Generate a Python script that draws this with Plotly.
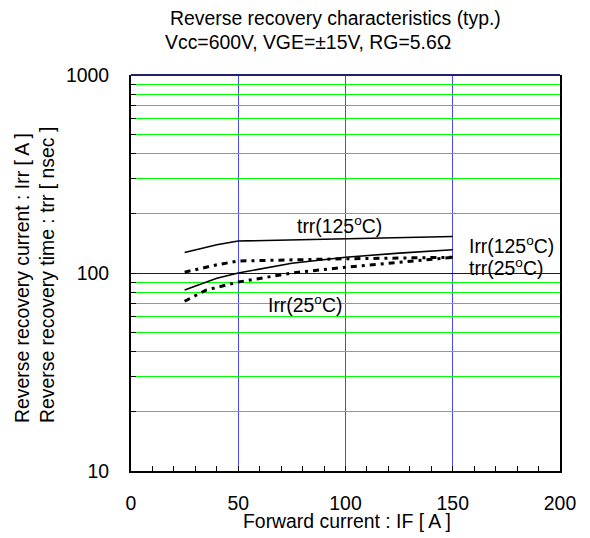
import numpy as np
import plotly.graph_objects as go

# ---- data ----
if_trr125 = [25, 40, 50, 75, 100, 125, 150]
trr125 = [127, 139, 145, 147, 149, 151, 153]

if_irr125 = [25, 40, 50, 75, 100, 125, 150]
irr125 = [82, 94, 100, 112, 120, 126, 131]

if_trr25 = [25, 40, 50, 75, 100, 125, 150]
trr25 = [101, 110, 115, 117, 118, 119, 120]

if_irr25 = [25, 35, 50, 75, 100, 125, 150]
irr25 = [72, 82, 90, 100, 107, 113, 120]

x_ticks = [0, 50, 100, 150, 200]
y_ticks = [10, 100, 1000]
y_minor = [20, 30, 40, 50, 60, 70, 80, 90, 200, 300, 400, 500, 600, 700, 800, 900]

FONT = "Liberation Sans, Arial, sans-serif"
FS = 19.4

# page has an 8px body margin, so the figure is drawn 8px smaller/offset
W, H = 582, 530
L, T = 123, 67
PW, PH = 429, 396
R = W - L - PW
B = H - T - PH

# positions measured on the reference picture (plot box 131..560 x 75..471)
def px(x):
    return (x - 131) / PW

def py(y):
    return (471 - y) / PH

fig = go.Figure()

fig.add_trace(go.Scatter(x=if_trr125, y=trr125, mode="lines",
                         line=dict(color="black", width=1.6), name="trr(125°C)"))
fig.add_trace(go.Scatter(x=if_irr125, y=irr125, mode="lines",
                         line=dict(color="black", width=1.6), name="Irr(125°C)"))
fig.add_trace(go.Scatter(x=if_trr25, y=trr25, mode="lines",
                         line=dict(color="black", width=3, dash="6px,5px,3px,5px"),
                         name="trr(25°C)"))
fig.add_trace(go.Scatter(x=if_irr25, y=irr25, mode="lines",
                         line=dict(color="black", width=3, dash="6px,5px,3px,5px"),
                         name="Irr(25°C)"))
# invisible trace on the overlay axis so that it is drawn
fig.add_trace(go.Scatter(x=[0], y=[10], mode="markers", yaxis="y2",
                         marker=dict(opacity=0), hoverinfo="skip", showlegend=False))

fig.update_layout(
    width=W, height=H,
    margin=dict(l=L, r=R, t=T, b=B),
    paper_bgcolor="white", plot_bgcolor="white",
    showlegend=False,
    font=dict(family=FONT, size=FS, color="black"),
    xaxis=dict(
        range=[0, 200], tickvals=x_ticks, ticktext=[str(v) for v in x_ticks],
        showgrid=True, gridcolor="#4848ff", gridwidth=1,
        zeroline=False,
        showline=True, linecolor="black", linewidth=2,
        ticks="inside", ticklen=5, tickcolor="black", tickwidth=1,
        ticklabelstandoff=14,
        minor=dict(dtick=10, tick0=0, ticks="inside", ticklen=5,
                   tickcolor="black", tickwidth=1, showgrid=False),
        tickfont=dict(family=FONT, size=FS),
    ),
    yaxis=dict(
        type="log", range=[1, 3], tickvals=y_ticks,
        ticktext=[str(v) for v in y_ticks],
        showgrid=True, gridcolor="#0000ff", gridwidth=1,
        zeroline=False,
        showline=True, linecolor="black", linewidth=2, mirror=True,
        ticks="inside", ticklen=5, tickcolor="black", tickwidth=1,
        ticklabelstandoff=16,
        tickfont=dict(family=FONT, size=FS),
    ),
    yaxis2=dict(
        type="log", range=[1, 3], overlaying="y", side="left",
        tickvals=y_minor, showticklabels=False,
        showgrid=True, gridcolor="#00ff00", gridwidth=1,
        zeroline=False, showline=False,
        ticks="inside", ticklen=5, tickcolor="black", tickwidth=1,
    ),
)

# top border (dark navy)
fig.add_shape(type="line", xref="paper", yref="paper", x0=0, x1=1, y0=1, y1=1,
              line=dict(color="#20206a", width=2))

ann = []
# titles
ann.append(dict(text="Reverse recovery characteristics (typ.)", xref="paper", yref="paper",
                x=px(168), y=py(18), xanchor="left", yanchor="middle", showarrow=False))
ann.append(dict(text="Vcc=600V, VGE=±15V, RG=5.6Ω", xref="paper", yref="paper",
                x=px(163), y=py(42), xanchor="left", yanchor="middle", showarrow=False))
# axis titles
ann.append(dict(text="Forward current : IF [ A ]", xref="paper", yref="paper",
                x=px(346.5), y=py(521), xanchor="center", yanchor="middle", showarrow=False))
ann.append(dict(text="Reverse recovery current : Irr [ A ]<br>Reverse recovery time : trr [ nsec ]",
                xref="paper", yref="paper", x=px(34), y=py(425),
                xanchor="center", yanchor="bottom", textangle=-90, align="left",
                showarrow=False))
# curve labels
ann.append(dict(text="trr(125<sup>o</sup>C)", x=97.4, y=np.log10(174),
                xanchor="center", yanchor="middle", showarrow=False))
ann.append(dict(text="Irr(125<sup>o</sup>C)", x=156.5, y=np.log10(139),
                xanchor="left", yanchor="middle", showarrow=False))
ann.append(dict(text="trr(25<sup>o</sup>C)", x=156.5, y=np.log10(107.5),
                xanchor="left", yanchor="middle", showarrow=False))
ann.append(dict(text="Irr(25<sup>o</sup>C)", x=62.8, y=np.log10(69.5),
                xanchor="left", yanchor="middle", showarrow=False))
fig.update_layout(annotations=ann)

fig.write_html("out.html")
